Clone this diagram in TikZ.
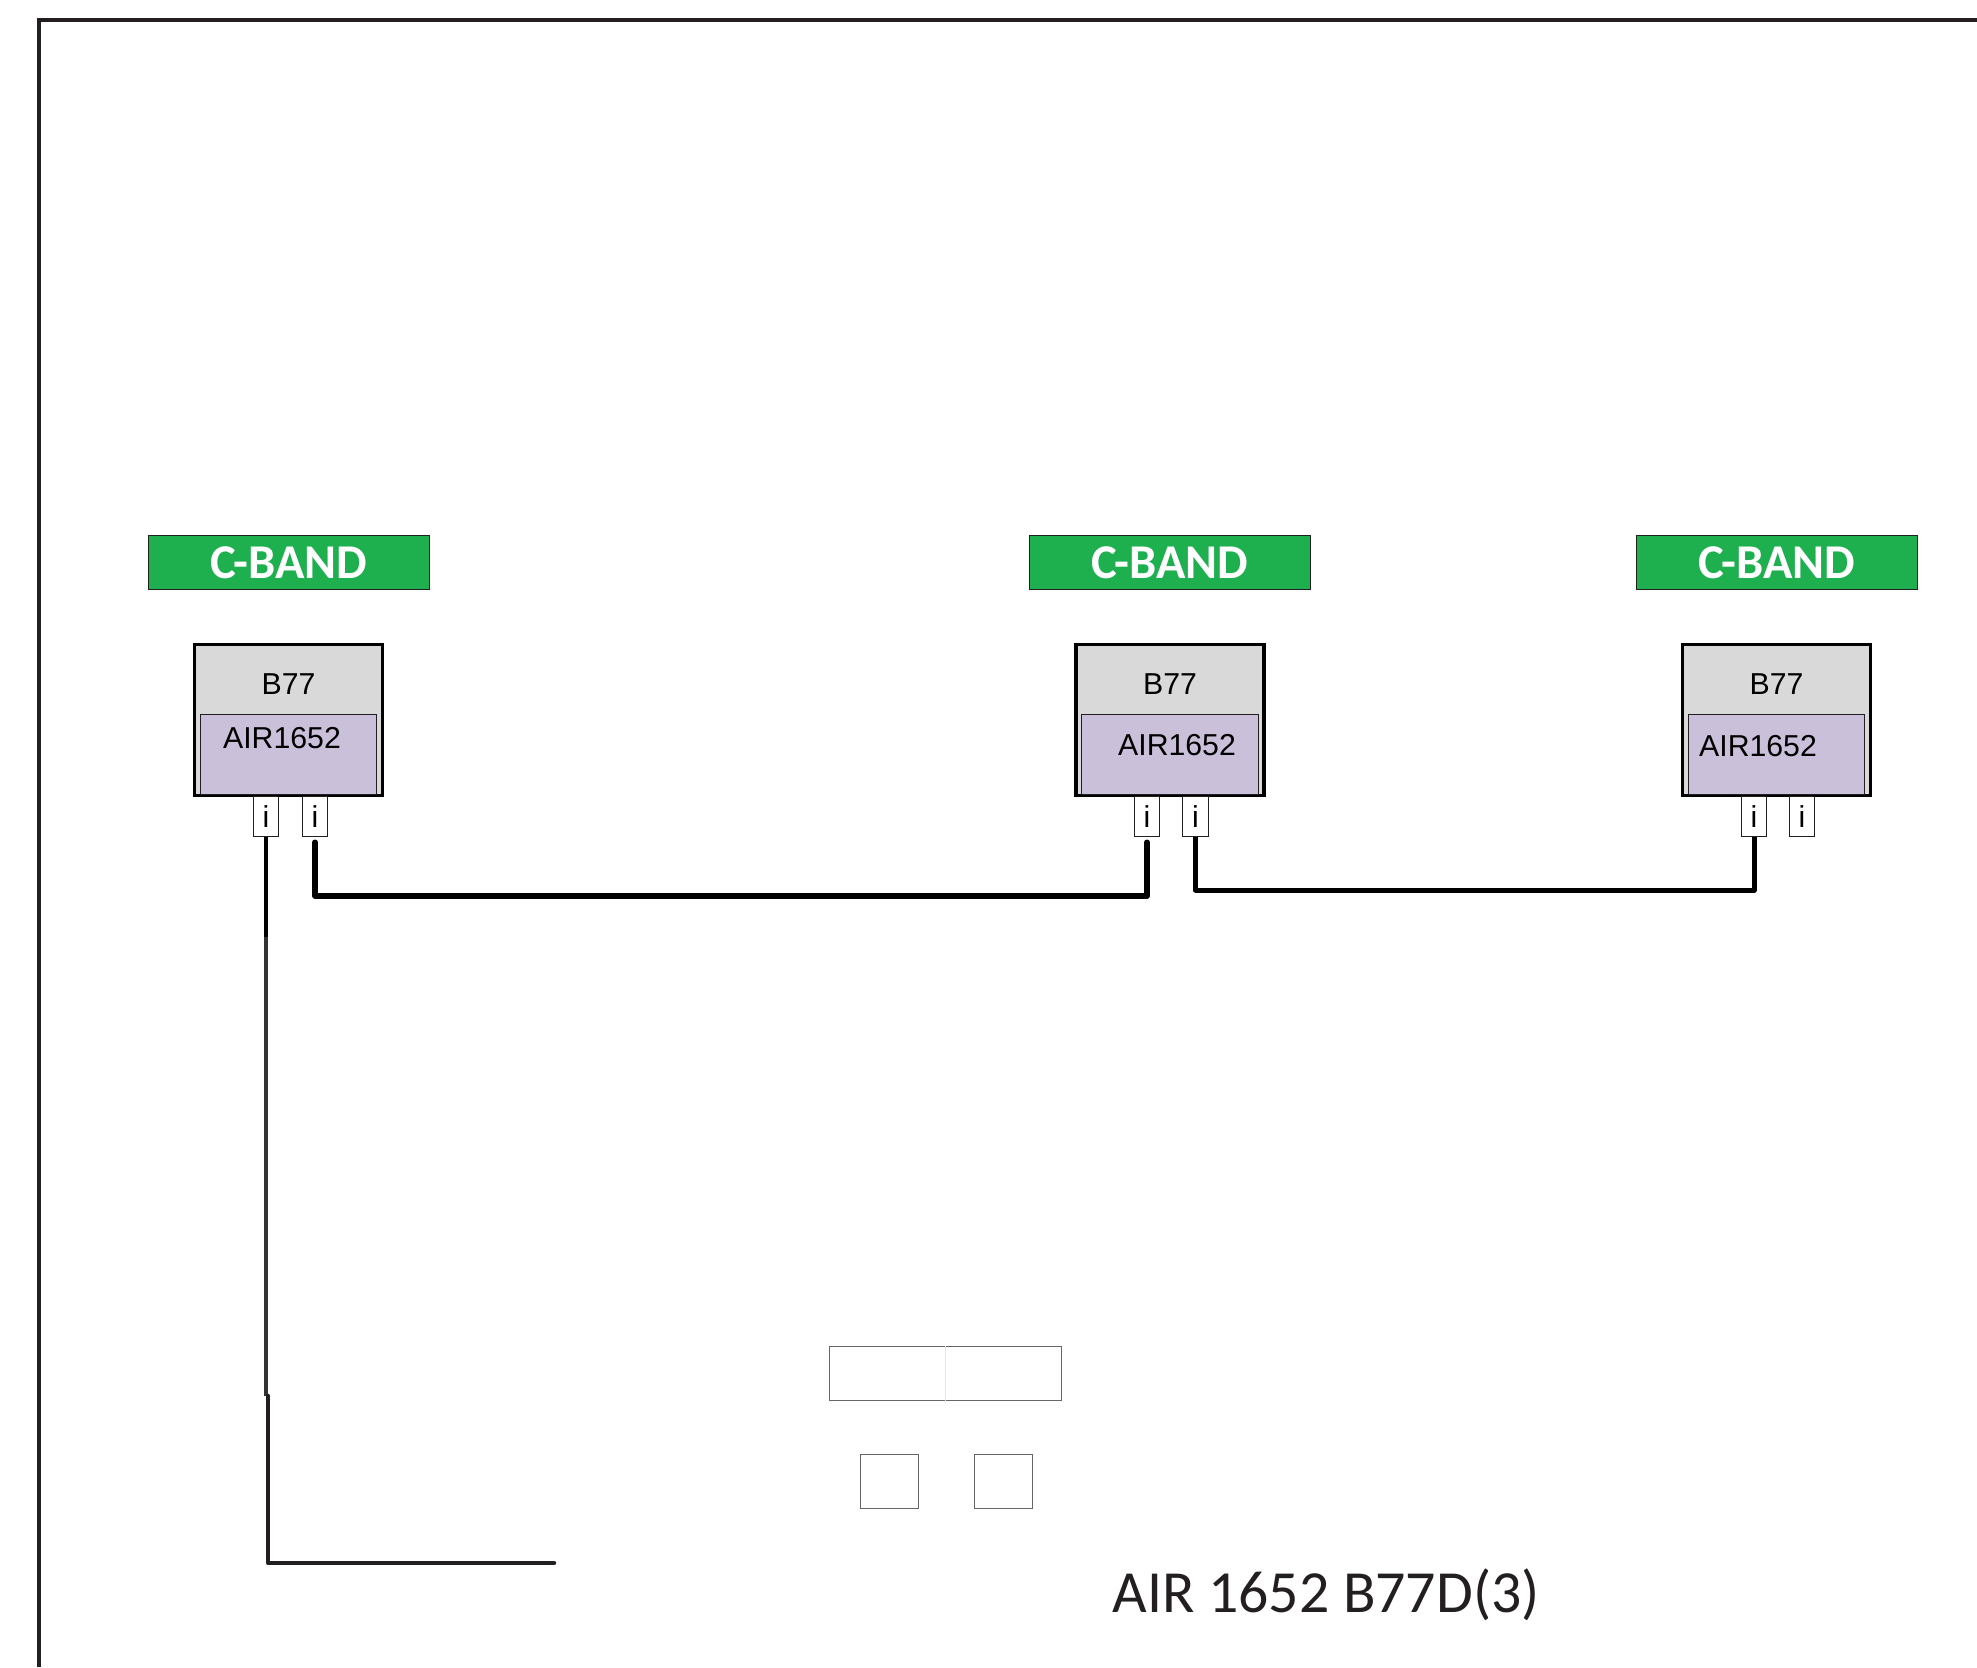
\documentclass[tikz,border=0pt]{standalone}
\usepackage{fontspec}
\setmainfont{Liberation Sans}
\newfontfamily\carlitofont{Carlito}
\usetikzlibrary{positioning}
\definecolor{bandgreen}{HTML}{1EB04F}
\definecolor{boxgray}{HTML}{D9D9D9}
\definecolor{airlilac}{HTML}{CAC0DA}
\definecolor{inkdark}{HTML}{231F20}
\tikzset{
	bandbox/.style={draw=inkdark, line width=0.014cm, fill=bandgreen, minimum width=2.81cm, minimum height=0.54cm, inner sep=0pt, text=white, font=\carlitofont\bfseries\fontsize{13.8pt}{15pt}\selectfont},
	unitbox/.style={draw=black, line width=0.035cm, fill=boxgray, minimum width=1.875cm, minimum height=1.505cm, inner sep=0pt},
	airbox/.style={draw=inkdark, line width=0.011cm, fill=airlilac, minimum width=1.765cm, minimum height=0.80cm, inner sep=0pt},
	portbox/.style={draw=inkdark, line width=0.01cm, fill=white, minimum width=0.255cm, minimum height=0.405cm, inner sep=0pt},
	plainbox/.style={draw=black!60, line width=0.01cm, fill=white, inner sep=0pt},
	smalltext/.style={font=\fontsize{8.6pt}{10pt}\selectfont, inner sep=0pt},
	wirethin/.style={line width=0.045cm},
	wirethick/.style={draw=black, line width=0.055cm, line join=round}
}
\begin{document}
\begin{tikzpicture}[x=0.01cm,y=-0.01cm]
	\useasboundingbox (0,0) rectangle (1977,1667);
	
	% Rahmen
	\draw[inkdark, line width=0.035cm] (39,1667) -- (39,20) -- (1977,20);
	
	% Einheiten
	\foreach \n/\bx/\ux/\pa/\pb/\tx/\ty in {1/289/288.5/266/315/282/738, 2/1170/1170/1147/1195.5/1177/745, 3/1777/1776.5/1754/1802/1758/746.5} {
		\node[bandbox] (band\n) at (\bx,562.5) {C-BAND};
		\node[unitbox] (unit\n) at (\ux,720) {};
		\node[airbox] (air\n) at (\ux,754.5) {};
		\node[smalltext] (name\n) at (\ux,684.5) {B77};
		\node[smalltext] (type\n) at (\tx,\ty) {AIR1652};
		\node[portbox, smalltext] (porta\n) at (\pa,816.5) {i};
		\node[portbox, smalltext] (portb\n) at (\pb,816.5) {i};
	}
	
	% untere Kaesten
	\node[plainbox, minimum width=2.31cm, minimum height=0.54cm] (bar) at (945.5,1373.5) {};
	\draw[black!10, line width=0.01cm] (bar.north) -- (bar.south);
	\node[plainbox, minimum width=0.585cm, minimum height=0.545cm] (squarea) at (889.5,1481.5) {};
	\node[plainbox, minimum width=0.58cm, minimum height=0.545cm] (squareb) at (1003,1481.5) {};
	
	% Leitungen
	\coordinate (shade) at (266,937);
	\coordinate (kink) at (268,1396);
	\coordinate (wireend) at (554,1563);
	\coordinate (lowa) at (0,896);
	\coordinate (lowb) at (0,890);
	\draw[wirethin, black] (porta1.south) -- (shade);
	\draw[wirethin, black!80] (shade) -- (shade |- kink);
	\draw[wirethin, inkdark, line join=round, line cap=round] (kink) |- (wireend);
	\draw[wirethick, line cap=round, shorten <=0.05cm, shorten >=0.05cm] (portb1.south) -- (portb1.south |- lowa) -- (porta2.south |- lowa) -- (porta2.south);
	\draw[wirethick, line width=0.05cm] (portb2.south) -- (portb2.south |- lowb) -- (porta3.south |- lowb) -- (porta3.south);
	
	% Titel
	\node[anchor=base west, inner sep=0pt, text=inkdark, font=\carlitofont\fontsize{17pt}{20pt}\selectfont] (title) at (1112,1612) {AIR 1652 B77D(3)};
\end{tikzpicture}
\end{document}
